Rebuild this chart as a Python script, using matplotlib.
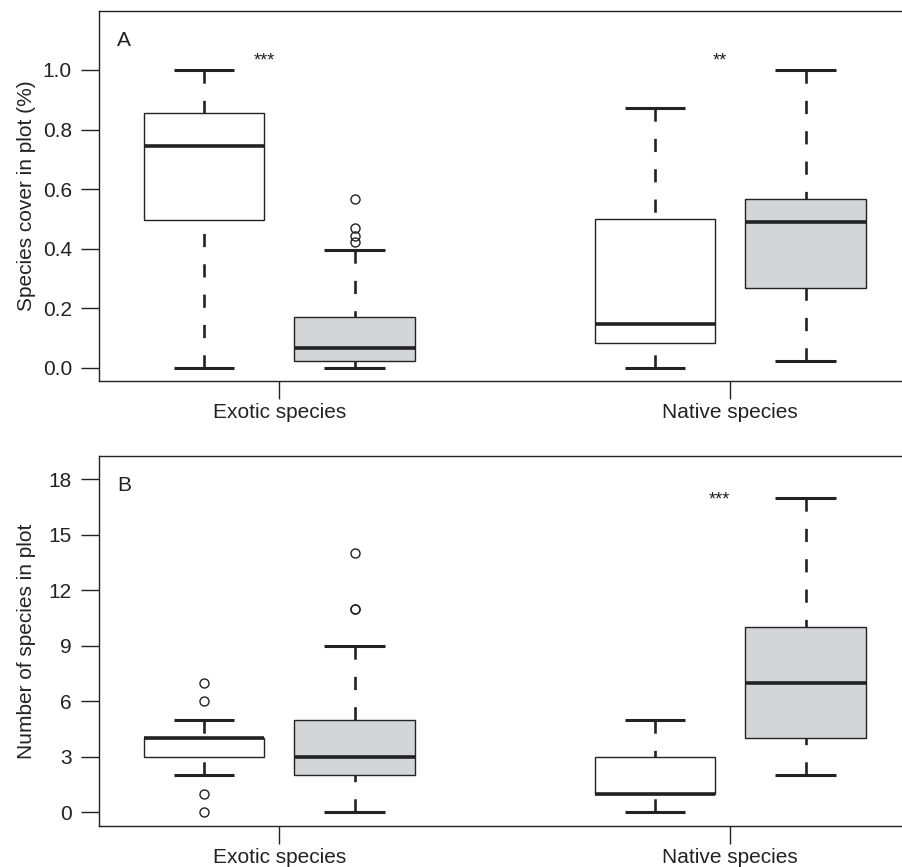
import matplotlib
matplotlib.use("Agg")
import matplotlib.pyplot as plt

plt.rcParams['font.family'] = ['Liberation Sans', 'DejaVu Sans']

groups = ["Exotic species", "Native species"]
positions = [1, 2, 4, 5]
group_ticks = [1.5, 4.5]

# panel A: species cover (whislo, q1, med, q3, whishi, outliers)
cover_low = [0.0, 0.0, 0.0, 0.022]
cover_q1 = [0.495, 0.023, 0.083, 0.269]
cover_med = [0.746, 0.066, 0.148, 0.491]
cover_q3 = [0.855, 0.172, 0.501, 0.568]
cover_high = [1.0, 0.397, 0.874, 1.0]
cover_fliers = [[], [0.566, 0.471, 0.441, 0.422], [], []]
cover_stars = ["***", "**"]

# panel B: number of species
rich_low = [2, 0, 0, 2]
rich_q1 = [3, 2, 1, 4]
rich_med = [4, 3, 1, 7]
rich_q3 = [4, 5, 3, 10]
rich_high = [5, 9, 5, 17]
rich_fliers = [[7, 6, 1, 0], [14, 11, 11], [], []]
rich_stars = ["", "***"]

fills = ["white", "#d4d5d7", "white", "#d4d5d7"]
ink = "#222222"


def make_stats(low, q1, med, q3, high, fliers):
    stats = []
    for i in range(len(low)):
        stats.append(dict(whislo=low[i], q1=q1[i], med=med[i], q3=q3[i],
                          whishi=high[i], fliers=fliers[i]))
    return stats


def draw_panel(ax, stats, ylim, yticks, ylabel, letter, stars, star_y):
    res = ax.bxp(stats, positions=positions, widths=0.8, capwidths=0.4,
                 patch_artist=True, manage_ticks=False,
                 boxprops=dict(linewidth=1.0, edgecolor=ink),
                 medianprops=dict(linewidth=2.6, color=ink, solid_capstyle="butt"),
                 whiskerprops=dict(linewidth=1.9, color=ink, linestyle=(0, (5.0, 6.5))),
                 capprops=dict(linewidth=2.2, color=ink, solid_capstyle="butt"),
                 flierprops=dict(marker="o", markersize=6.5, markerfacecolor="none",
                                 markeredgecolor=ink, markeredgewidth=1.0))
    for patch, c in zip(res["boxes"], fills):
        patch.set_facecolor(c)
    # R draws whiskers from the cap toward the box
    for w in res["whiskers"]:
        w.set_xdata(w.get_xdata()[::-1])
        w.set_ydata(w.get_ydata()[::-1])

    ax.set_xlim(0.3, 5.7)
    ax.set_ylim(*ylim)
    ax.set_yticks(yticks)
    ax.set_xticks(group_ticks)
    ax.set_xticklabels(groups)
    ax.tick_params(axis="both", direction="out", length=13, width=1.0,
                   colors=ink, labelsize=15, labelcolor=ink)
    ax.tick_params(axis="y", pad=6.5)
    ax.tick_params(axis="x", pad=3)
    for s in ax.spines.values():
        s.set_linewidth(1.0)
        s.set_color(ink)
    ax.set_ylabel(ylabel, fontsize=15, color=ink)
    ax.yaxis.set_label_coords(-0.078, 0.5)
    ax.text(0.022, 0.905, letter, transform=ax.transAxes, fontsize=15,
            color=ink, va="baseline")
    for x, s in zip([1.4, 4.43], stars):
        ax.text(x, star_y, s, fontsize=13, color=ink, ha="center", va="center")


fig = plt.figure(figsize=(9.03, 8.67), dpi=100)
axA = fig.add_axes([0.1096, 0.5606, 0.899, 0.4267])
axB = fig.add_axes([0.1096, 0.0473, 0.899, 0.4267])

draw_panel(axA, make_stats(cover_low, cover_q1, cover_med, cover_q3, cover_high, cover_fliers),
           (-0.044, 1.198), [0.0, 0.2, 0.4, 0.6, 0.8, 1.0],
           "Species cover in plot (%)", "A", cover_stars, 1.03)
axA.set_yticklabels(["0.0", "0.2", "0.4", "0.6", "0.8", "1.0"])

draw_panel(axB, make_stats(rich_low, rich_q1, rich_med, rich_q3, rich_high, rich_fliers),
           (-0.74, 19.26), [0, 3, 6, 9, 12, 15, 18],
           "Number of species in plot", "B", rich_stars, 16.9)

fig.savefig("out.png", dpi=100)
